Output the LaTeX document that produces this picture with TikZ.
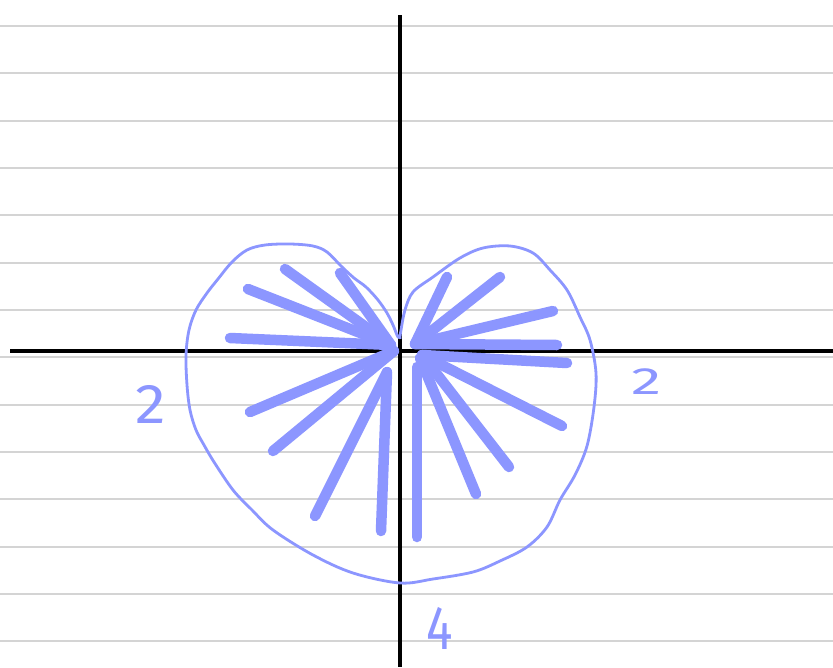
\documentclass[tikz,border=0pt]{standalone}
\usepackage{fontspec}
\newfontfamily\hand{Fira Sans}
\definecolor{pen}{RGB}{140,150,255}
\definecolor{rule}{RGB}{212,212,212}
\tikzset{
  ruleline/.style={draw=rule, line width=2pt},
  axisline/.style={draw=black, line width=3.2pt},
  spoke/.style={draw=pen, line width=10.5pt, line cap=round},
  outline/.style={draw=pen, line width=2.8pt, line join=round},
  handlabel/.style={text=pen, inner sep=0pt, font=\hand}
}
\begin{document}
\begin{tikzpicture}[x=1pt,y=-1pt]
\useasboundingbox (0,0) rectangle (833,667);
\fill[white] (0,0) rectangle (833,667);
% ruled paper lines
\foreach \yy in {26,73.3,120.6,168,215.3,262.6,310,357.3,404.6,452,499.3,546.6,594,641.3}
  \draw[ruleline] (0,\yy) -- (833,\yy);
% axes
\coordinate (xl) at (10,351);
\coordinate (xr) at (833,351);
\coordinate (yt) at (400,15);
\coordinate (yb) at (400,667);
\draw[axisline] (xl) -- (xr);
\draw[axisline] (yt) -- (yb);
% outline curve
\draw[outline] plot[smooth, tension=0.55] coordinates {
 (401,337) (398,337) (393,325) (387,313) (378,300) (366,287) (354,278) (341,266) (327,252) (313,246)
 (290,244) (265,245) (247,250) (232,262) (218,279) (207,293) (196,310) (189,330)
 (186,355) (187,385) (190,410) (196,430) (204,445) (214,462) (233,490) (252,510) (273,530)
 (313,555) (353,573) (400,583) (433,579) (473,572) (500,561) (527,547) (547,527)
 (560,500) (575,475) (587,446) (594,407) (596,373) (590,340) (580,317) (567,290)
 (550,270) (533,253) (510,246) (483,248) (460,258) (433,277) (413,292) (405,310) (401,330) (400,337)};
% spokes: left upper
\coordinate (cl) at (391,345);
\draw[spoke] (230,338) -- (cl);
\draw[spoke] (248,289) -- (cl);
\draw[spoke] (285,269) -- (cl);
\draw[spoke] (340,273) -- (cl);
% left lower
\coordinate (cll) at (394,351);
\coordinate (clb) at (387,372);
\draw[spoke] (250,412) -- (cll);
\draw[spoke] (273,451) -- (cll);
\draw[spoke] (315,516) -- (clb);
\draw[spoke] (381,531) -- (clb);
% right upper
\coordinate (cr) at (415,344);
\draw[spoke] (447,277) -- (cr);
\draw[spoke] (500,277) -- (cr);
\draw[spoke] (553,311) -- (cr);
\draw[spoke] (557,345) -- (cr);
% right lower
\coordinate (crl) at (422,355);
\draw[spoke] (567,363) -- (crl);
\draw[spoke] (562,426) -- (crl);
\draw[spoke] (509,467) -- (crl);
\draw[spoke] (476,494) -- (420,358);
\draw[spoke] (417,537) -- (417,367);
% labels
\node[handlabel, font=\hand\fontsize{56}{56}\selectfont, xscale=1.1] (lbl2l) at (151,404) {2};
\node[handlabel, font=\hand\fontsize{38}{38}\selectfont, xscale=1.6] (lbl2r) at (647,382) {2};
\node[handlabel, font=\hand\fontsize{62}{62}\selectfont, xscale=0.8] (lbl4) at (440,628) {4};
\end{tikzpicture}
\end{document}
